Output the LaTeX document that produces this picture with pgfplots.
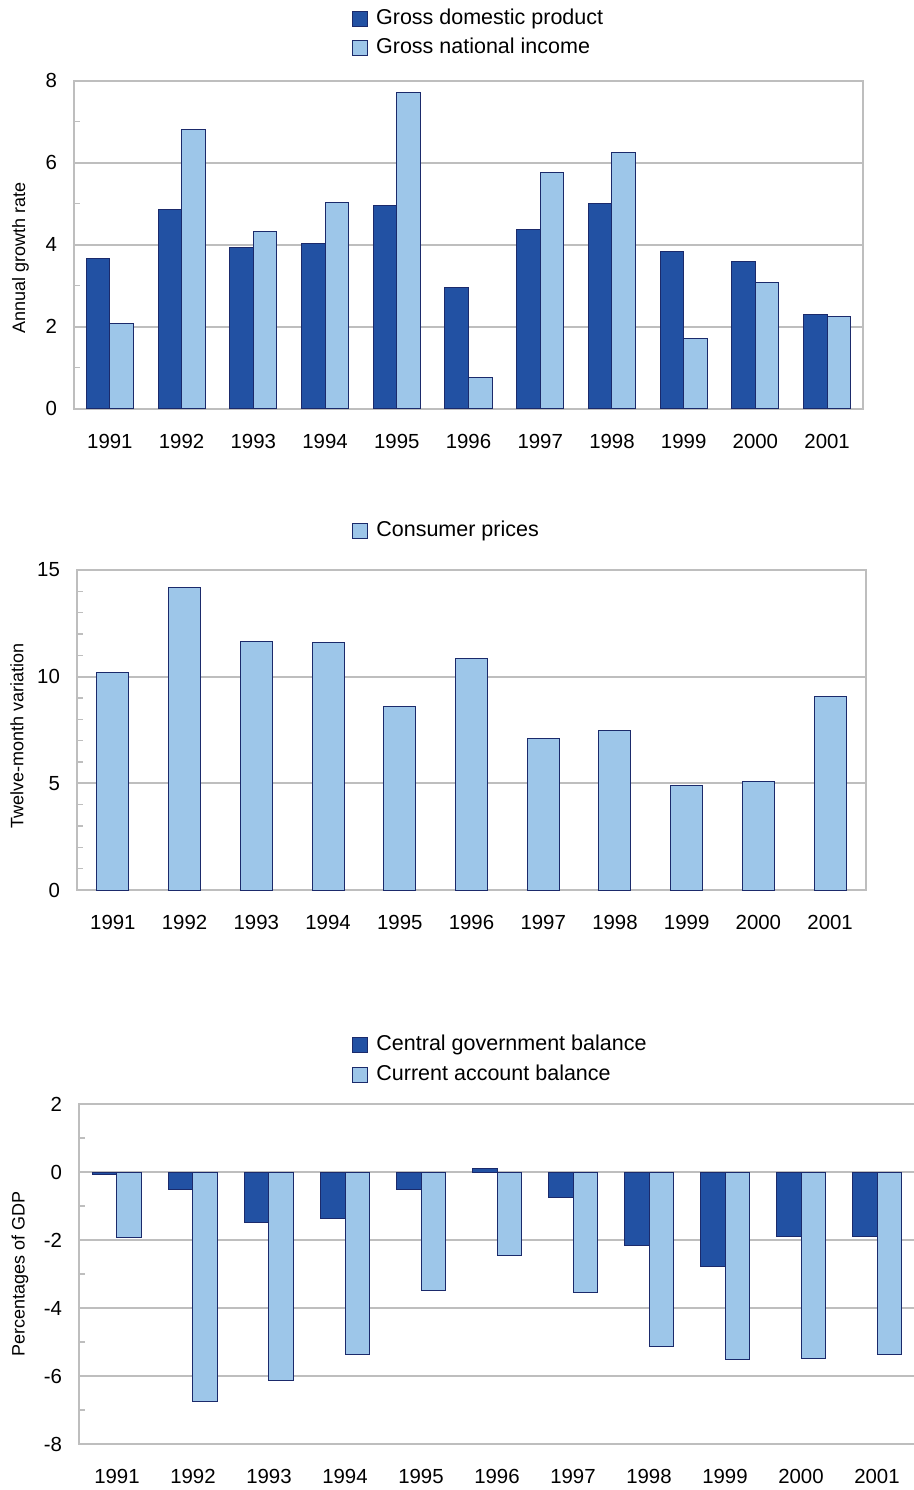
\documentclass[border=0pt]{standalone}
\usepackage{pgfplots}
\pgfplotsset{compat=1.18}
\usepackage{fontspec}
\setmainfont{Liberation Sans}

\definecolor{darkbar}{HTML}{2251A3}
\definecolor{lightbar}{HTML}{9DC6E9}
\definecolor{baredge}{HTML}{1B2A6B}
\definecolor{gridgray}{HTML}{BEBEBE}

\pgfplotsset{
  panel/.style={
    scale only axis,
    ybar,
    xmin=-0.5, xmax=10.5,
    xtick={0,...,10},
    xticklabels={1991,1992,1993,1994,1995,1996,1997,1998,1999,2000,2001},
    axis line style={draw=gridgray, line width=1.1pt},
    ymajorgrids,
    grid style={draw=gridgray, line width=1.1pt},
    major tick length=0pt,
    minor y tick num=1,
    minor tick length=3pt,
    minor tick style={draw=gridgray, line width=0.7pt},
    tick align=inside,
    ytick pos=left, xtick pos=bottom,
    tick label style={font=\fontsize{10.2}{12}\selectfont},
    yticklabel style={xshift=-5pt},
    xticklabel style={yshift=-9pt},
    ylabel style={font=\fontsize{9}{11}\selectfont, anchor=center},
    legend cell align=left,
    legend style={draw=none, fill=none, inner sep=0pt, anchor=north west,
      font=\fontsize{10.75}{12}\selectfont, row sep=1.3pt,
      nodes={inner sep=1.5pt, text height=7.7pt, text depth=2.2pt}},
    legend image code/.code={%
      \draw[##1, line width=0.5pt] (0pt,-3.75pt) rectangle (7.5pt,3.75pt);
      \path (10pt,0pt);},
  },
  darkstyle/.style={fill=darkbar, draw=baredge, line width=0.5pt},
  lightstyle/.style={fill=lightbar, draw=baredge, line width=0.5pt},
}

\begin{document}
\begin{tikzpicture}
% panel 1: growth
\begin{axis}[panel,
  at={(37pt,-204.35pt)}, anchor=south west,
  width=394.5pt, height=164pt,
  ymin=0, ymax=8, ytick={0,2,4,6,8}, yticklabels={0,2,4,6,8},
  ylabel={Annual growth rate},
  ylabel style={at={(axis description cs:-0.068,0.46)}},
  legend style={at={(0.352,1.228)}},
]
\addplot[darkstyle, bar width=0.328, bar shift=-0.164] coordinates {
  (0,3.67) (1,4.85) (2,3.93) (3,4.03) (4,4.96) (5,2.96)
  (6,4.36) (7,5.01) (8,3.84) (9,3.58) (10,2.29)};
\addplot[lightstyle, bar width=0.328, bar shift=0.164] coordinates {
  (0,2.07) (1,6.80) (2,4.33) (3,5.03) (4,7.71) (5,0.76)
  (6,5.77) (7,6.24) (8,1.71) (9,3.09) (10,2.25)};
\legend{Gross domestic product, Gross national income}
\end{axis}

% panel 2: consumer prices
\begin{axis}[panel,
  at={(38.5pt,-445pt)}, anchor=south west,
  width=394.5pt, height=160pt,
  ymin=0, ymax=15, ytick={0,5,10,15}, yticklabels={0,5,10,15},
  minor y tick num=4,
  ylabel={Twelve-month variation},
  ylabel style={at={(axis description cs:-0.076,0.48)}},
  legend style={at={(0.3485,1.165)}},
]
\addplot[lightstyle, bar width=0.446, bar shift=0] coordinates {
  (0,10.19) (1,14.20) (2,11.63) (3,11.60) (4,8.60) (5,10.84)
  (6,7.09) (7,7.50) (8,4.89) (9,5.08) (10,9.06)};
\legend{Consumer prices}
\end{axis}

% panel 3: balances
\begin{axis}[panel,
  at={(39.5pt,-722pt)}, anchor=south west,
  width=418pt, height=170pt,
  ymin=-8, ymax=2, ytick={-8,-6,-4,-2,0,2}, yticklabels={-8,-6,-4,-2,0,2},
  ylabel={Percentages of GDP},
  ylabel style={at={(axis description cs:-0.0706,0.50)}},
  legend style={at={(0.3266,1.214)}, row sep=2.3pt},
]
\addplot[darkstyle, bar width=0.322, bar shift=-0.161] coordinates {
  (0,-0.07) (1,-0.52) (2,-1.49) (3,-1.38) (4,-0.50) (5,0.09)
  (6,-0.74) (7,-2.17) (8,-2.78) (9,-1.90) (10,-1.90)};
\addplot[lightstyle, bar width=0.322, bar shift=0.161] coordinates {
  (0,-1.94) (1,-6.74) (2,-6.12) (3,-5.37) (4,-3.48) (5,-2.45)
  (6,-3.55) (7,-5.13) (8,-5.52) (9,-5.49) (10,-5.37)};
\legend{Central government balance, Current account balance}
\end{axis}

\pgfresetboundingbox
\path[use as bounding box] (0pt,0pt) rectangle (457pt,-745pt);
\end{tikzpicture}
\end{document}
